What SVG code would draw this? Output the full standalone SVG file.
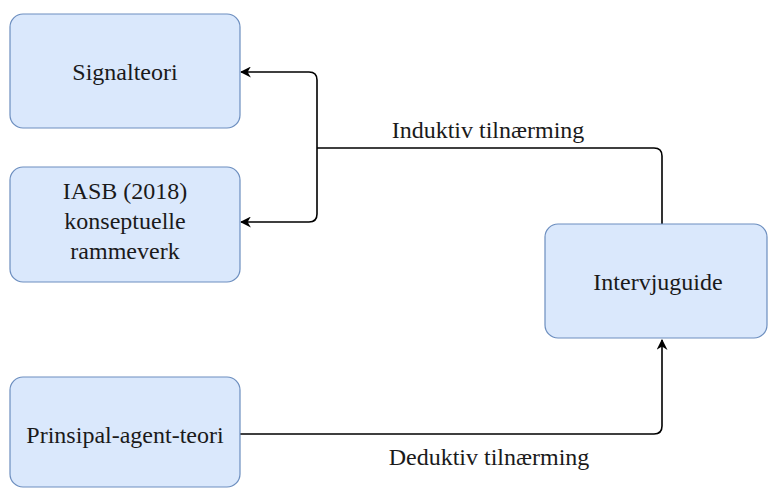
<svg xmlns="http://www.w3.org/2000/svg" width="769" height="488" viewBox="0 0 769 488">
  <defs>
    <style>
      .box { fill: #dae8fc; stroke: #6c8ebf; stroke-width: 1.2; }
      text { font-family: 'Liberation Serif', 'DejaVu Serif', 'Times New Roman', Times, serif; font-size: 24px; fill: #1a1a1a; text-anchor: middle; }
      .edge { fill: none; stroke: #000; stroke-width: 1.6; }
    </style>
    <marker id="arr" viewBox="0 0 10 10" refX="9" refY="5" markerWidth="11" markerHeight="11" markerUnits="userSpaceOnUse" orient="auto">
      <path d="M0,0 L10,5 L0,10 L3,5 Z" fill="#000"/>
    </marker>
  </defs>
  <rect width="769" height="488" fill="#ffffff"/>

  <g id="connectors">
    <path class="edge" d="M662,224 V156 Q662,148 654,148 H317"/>
    <path class="edge" d="M317,148 V80 Q317,72 309,72 H241" marker-end="url(#arr)"/>
    <path class="edge" d="M317,148 V214 Q317,222 309,222 H241" marker-end="url(#arr)"/>
    <path class="edge" d="M240,434 H654 Q662,434 662,426 V340" marker-end="url(#arr)"/>
    <text x="488" y="138">Induktiv tilnærming</text>
    <text x="489" y="465">Deduktiv tilnærming</text>
  </g>

  <g id="signalteori">
    <rect class="box" x="10" y="14" width="230" height="114" rx="13"/>
    <text x="125" y="80">Signalteori</text>
  </g>

  <g id="iasb">
    <rect class="box" x="10" y="167" width="230" height="115" rx="13"/>
    <text x="125" y="199">IASB (2018)</text>
    <text x="125" y="229">konseptuelle</text>
    <text x="125" y="259">rammeverk</text>
  </g>

  <g id="prinsipal">
    <rect class="box" x="10" y="377" width="230" height="110" rx="13"/>
    <text x="125" y="443">Prinsipal-agent-teori</text>
  </g>

  <g id="intervjuguide">
    <rect class="box" x="545" y="224" width="222" height="114" rx="13"/>
    <text x="658" y="290">Intervjuguide</text>
  </g>
</svg>
